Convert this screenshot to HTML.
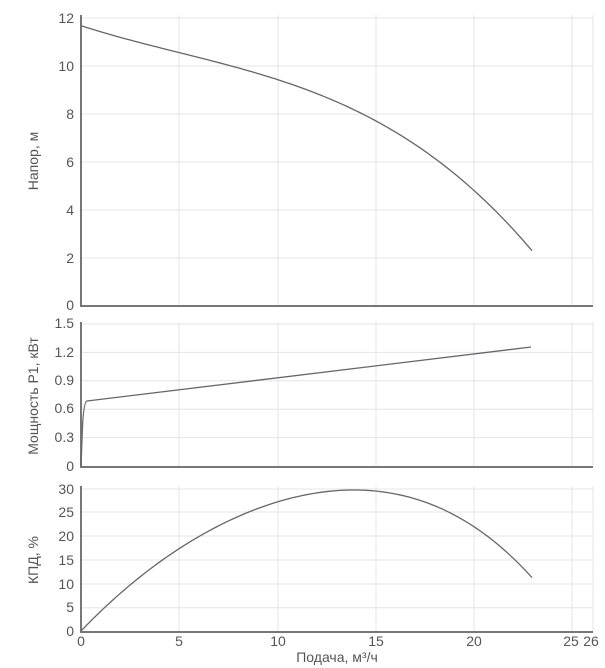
<!DOCTYPE html><html><head><meta charset="utf-8"><style>body{margin:0;background:#fff}svg{display:block;font-family:"Liberation Sans","DejaVu Sans",sans-serif}</style></head><body>
<svg width="605" height="668" viewBox="0 0 605 668">
<g stroke="#e4e4ea" stroke-width="1">
<path d="M81 18H593M81 66H593M81 114H593M81 162H593M81 210H593M81 258H593"/>
<path d="M81 324H593M81 352.4H593M81 380.8H593M81 409.2H593M81 437.6H593"/>
<path d="M81 489H593M81 512H593M81 536H593M81 560H593M81 584H593M81 607.7H593"/>
<path d="M179 15V305M278 15V305M376 15V305M474 15V305M572 15V305M593 15V305"/>
<path d="M179 322V466M278 322V466M376 322V466M474 322V466M572 322V466M593 322V466"/>
<path d="M179 486V631M278 486V631M376 486V631M474 486V631M572 486V631M593 486V631"/>
</g>
<g stroke="#777" stroke-width="2" fill="none">
<path d="M81 15V306H593"/><path d="M81 322V467H593"/><path d="M81 486V632H593"/>
</g>
<g stroke="#666" stroke-width="1.3" fill="none">
<path id="h" d="M81,25.7 L179,52.7 L230,65 L277.7,80 L326.7,98.3 L376,120 L426.7,153.3 L474,190 L532,250.7"/>
<path d="M81,466 L82,440 Q83,402 87,401 L531,347"/>
<path id="e" d="M81,631 L130,586 L179,548.3 L227,521.7 L278,501.7 L320,492 L353,489.3 L376,491 L430,506.7 L474,526.7 L507,548.3 L532,577.7"/>
</g>
<g fill="#555" font-size="14" text-anchor="end">
<text x="74" y="23">12</text><text x="74" y="71">10</text><text x="74" y="119">8</text><text x="74" y="167">6</text><text x="74" y="215">4</text><text x="74" y="263">2</text><text x="74" y="310">0</text>
<text x="74" y="328">1.5</text><text x="74" y="357">1.2</text><text x="74" y="385">0.9</text><text x="74" y="413">0.6</text><text x="74" y="442">0.3</text><text x="74" y="471">0</text>
<text x="74" y="494">30</text><text x="74" y="517">25</text><text x="74" y="541">20</text><text x="74" y="565">15</text><text x="74" y="589">10</text><text x="74" y="612">5</text><text x="74" y="636">0</text>
</g>
<g fill="#555" font-size="14" text-anchor="middle">
<text x="81" y="646">0</text><text x="179" y="646">5</text><text x="278" y="646">10</text><text x="376" y="646">15</text><text x="474" y="646">20</text><text x="571" y="646">25</text><text x="591" y="646">26</text>
<text x="337" y="662">Подача, м³/ч</text>
<text transform="translate(38 161) rotate(-90)">Напор, м</text>
<text transform="translate(38 396) rotate(-90)">Мощность P1, кВт</text>
<text transform="translate(38 560) rotate(-90)">КПД, %</text>
</g>
</svg>
<script>
function fit(p,deg){var n=deg+1,A=[],i,j,k;
for(i=0;i<n;i++){A.push([]);for(j=0;j<=n;j++)A[i].push(0);}
p.forEach(function(q){var x=(q[0]-81)/451,w=(q===p[0]||q===p[p.length-1])?20:1;
for(i=0;i<n;i++){for(j=0;j<n;j++)A[i][j]+=w*Math.pow(x,i+j);A[i][n]+=w*Math.pow(x,i)*q[1];}});
for(i=0;i<n;i++){var m=i;for(k=i+1;k<n;k++)if(Math.abs(A[k][i])>Math.abs(A[m][i]))m=k;var t=A[i];A[i]=A[m];A[m]=t;
for(k=0;k<n;k++)if(k!=i){var f=A[k][i]/A[i][i];for(j=i;j<=n;j++)A[k][j]-=f*A[i][j];}}
return A.map(function(r,i){return r[n]/r[i];});}
[['h',3],['e',4]].forEach(function(o){var el=document.getElementById(o[0]);
var p=el.getAttribute('d').replace(/[ML]/g,' ').trim().split(/\s+/).map(function(s){return s.split(',').map(Number);});
var c=fit(p,o[1]),x0=p[0][0],x1=p[p.length-1][0],d='';
for(var s=0;s<=100;s++){var X=x0+(x1-x0)*s/100,x=(X-81)/451,y=0;for(var i=0;i<c.length;i++)y+=c[i]*Math.pow(x,i);
d+=(s?' L':'M')+X.toFixed(2)+','+y.toFixed(2);}
el.setAttribute('d',d);});
</script>
</body></html>
